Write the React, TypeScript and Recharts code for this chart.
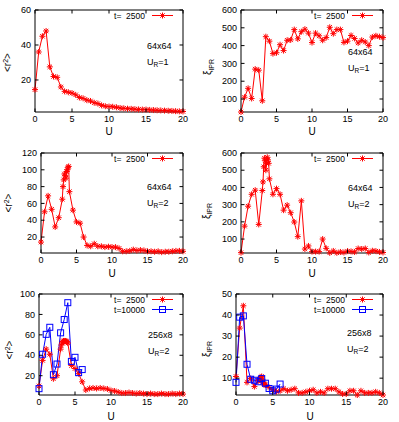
import React from 'react';
import { LineChart, Line, XAxis, YAxis, ReferenceLine, Legend } from 'recharts';

const FONT = '"Liberation Sans", Arial, Helvetica, sans-serif';
const RED = '#ff0000';
const BLUE = '#0000ff';

// U grids (the 2500 runs on UR=2 have extra points between 3 and 4)
const uCoarse = [0, 0.5, 1, 1.5, 2, 2.5, 3, 3.5, 4, 4.5, 5, 5.5, 6, 6.5, 7, 7.5, 8, 8.5, 9, 9.5, 10,
  10.5, 11, 11.5, 12, 12.5, 13, 13.5, 14, 14.5, 15, 15.5, 16, 16.5, 17, 17.5, 18, 18.5, 19, 19.5, 20];
const uFine = [0, 0.5, 1, 1.5, 2, 2.5, 3, 3.1, 3.2, 3.3, 3.4, 3.5, 3.6, 3.7, 3.8, 3.9, 4, 4.5, 5, 5.5, 6,
  6.5, 7, 7.5, 8, 8.5, 9, 9.5, 10, 10.5, 11, 11.5, 12, 12.5, 13, 13.5, 14, 14.5, 15, 15.5, 16, 16.5, 17,
  17.5, 18, 18.5, 19, 19.5, 20];
const uLong = [0, 0.5, 1, 1.5, 2, 2.5, 3, 3.5, 4, 4.5, 5, 5.5, 6];

// 64x64, UR=1
const r2UR1 = [14.5, 36, 45, 48, 27.5, 22, 21.5, 16, 13.5, 13, 12.5, 11.5, 10, 9.5, 8.5, 8, 7, 6.5, 5.5, 5,
  4.8, 4.7, 4.4, 4, 3.8, 3.6, 3.5, 3.3, 3.2, 3.1, 3.1, 2.9, 2.8, 2.7, 2.6, 2.5, 2.4, 2.3, 2.2, 2.1, 2.0];
const xiUR1 = [27, 110, 160, 103, 268, 262, 90, 450, 425, 355, 360, 405, 372, 430, 432, 490, 438, 478, 492,
  470, 417, 470, 455, 430, 445, 503, 467, 490, 490, 418, 425, 457, 440, 415, 430, 420, 400, 448, 455, 450, 445];

// 64x64, UR=2
const r2UR2 = [14, 50, 69, 53, 32, 43, 65, 80, 88, 95, 93, 90, 98, 100, 103, 104, 74, 52, 38, 36.5, 20, 10,
  9, 12, 9, 9, 8, 8.5, 8, 8, 6.5, 3, 3, 3.5, 5, 4, 4.5, 4, 3, 3, 2.5, 3, 2, 2.5, 2.5, 3, 3.5, 3.5, 3];
const xiUR2 = [21, 175, 291, 360, 384, 185, 382, 432, 520, 570, 555, 500, 540, 575, 560, 540, 450, 360, 393,
  360, 268, 297, 253, 199, 114, 322, 42, 60, 27, 27, 27, 100, 46, 20, 31, 20, 25, 22, 30, 28, 25, 45, 42,
  45, 22, 32, 30, 25, 22];

// 256x8, UR=2
const r2Strip2500 = [10, 35, 46, 41, 17, 20, 46, 50, 52, 53, 54, 54, 54, 54, 53.5, 53, 52, 30, 27, 22, 14, 6,
  7.5, 8, 7.5, 8, 7.5, 7, 5.5, 5, 4, 3, 3, 3.5, 3, 2.5, 3, 2.5, 2, 2.5, 2, 2, 2.5, 2, 2, 2.5, 2, 2.5, 2];
const r2Strip10000 = [7.3, 41, 60.5, 67.4, 21, 31.4, 62, 75, 91.5, 34, 38, 23, 26];
const xiStrip2500 = [10.8, 33.8, 44.4, 8, 9.8, 6, 8.7, 9, 9.5, 10, 10.5, 10.8, 9.5, 8, 7.5, 7, 6.7, 5.6, 4.4,
  3.6, 4, 5, 4, 4.5, 5, 3, 3, 3.5, 4, 4.5, 3, 3.5, 3, 5, 5, 5, 3.5, 2.5, 2.5, 4, 4, 2, 4, 3, 3, 3, 3.5, 3, 2];
const xiStrip10000 = [8, 39, 39.6, 16.6, 9.5, 9, 8.3, 9.8, 7.6, 5.1, 4, 4.8, 7.2];

const xTicks = [0, 5, 10, 15, 20];

const toRows = (us: number[], vs: number[]) => us.map((u, i) => ({ u, v: vs[i] }));

type Box = { l: number; t: number; r: number; b: number };

const Star = ({ cx, cy, color }: any) => {
  const r = 3, d = 2.2;
  return (
    <path
      d={`M${cx - r},${cy}H${cx + r}M${cx},${cy - r}V${cy + r}M${cx - d},${cy - d}L${cx + d},${cy + d}M${cx - d},${cy + d}L${cx + d},${cy - d}`}
      stroke={color}
      strokeWidth={1}
      fill="none"
    />
  );
};

const Square = ({ cx, cy, color }: any) => (
  <rect x={cx - 3} y={cy - 3} width={6} height={6} fill="none" stroke={color} strokeWidth={1} />
);

// gnuplot style: ticks point inwards and are mirrored on the opposite border
const XTick = ({ x, payload, box }: any) => (
  <g>
    <line x1={x} x2={x} y1={box.b} y2={box.b - 3.5} stroke="#000" />
    <line x1={x} x2={x} y1={box.t} y2={box.t + 3.5} stroke="#000" />
    <text x={x} y={box.b + 10} textAnchor="middle" fontSize={9} fontFamily={FONT} fill="#000">
      {payload.value}
    </text>
  </g>
);

const YTick = ({ y, payload, box }: any) => (
  <g>
    <line x1={box.l} x2={box.l + 3.5} y1={y} y2={y} stroke="#000" />
    <line x1={box.r} x2={box.r - 3.5} y1={y} y2={y} stroke="#000" />
    <text x={box.l - 4} y={y + 3.2} textAnchor="end" fontSize={9} fontFamily={FONT} fill="#000">
      {payload.value}
    </text>
  </g>
);

interface Series {
  data: { u: number; v: number }[];
  color: string;
  marker: 'star' | 'square';
  label: string;
}

const ROW = 10;

const LegendBox = ({ series }: { series: Series[] }) => (
  <svg width={80} height={series.length * ROW + 4} style={{ display: 'block', overflow: 'visible' }}>
    {series.map((s, i) => {
      const y = 5.5 + i * ROW;
      return (
        <g key={i}>
          <text x={42} y={y + 3} textAnchor="end" fontSize={8.5} fontFamily={FONT} fill="#000" style={{ whiteSpace: 'pre' }}>
            {s.label}
          </text>
          <line x1={49} x2={70} y1={y} y2={y} stroke={s.color} />
          {s.marker === 'star' ? <Star cx={59.5} cy={y} color={s.color} /> : <Square cx={59.5} cy={y} color={s.color} />}
        </g>
      );
    })}
  </svg>
);

interface PanelCfg {
  left: number;
  top: number;
  w: number;
  h: number;
  plot: Box;
  yDomain: [number, number];
  yTicks: number[];
}

const Panel = ({ cfg, series }: { cfg: PanelCfg; series: Series[] }) => {
  const { left, top, w, h, plot } = cfg;
  const box: Box = { l: plot.l - left, t: plot.t - top, r: plot.r - left, b: plot.b - top };
  const xH = 20;
  const margin = { top: box.t, right: w - box.r, left: 0, bottom: h - box.b - xH };
  return (
    <div style={{ position: 'absolute', left, top, width: w, height: h }}>
      <LineChart width={w} height={h} margin={margin}>
        <XAxis
          type="number"
          dataKey="u"
          domain={[0, 20]}
          ticks={xTicks}
          interval={0}
          height={xH}
          tickSize={0}
          tickLine={false}
          axisLine={{ stroke: '#000' }}
          tick={(p: any) => <XTick {...p} box={box} />}
        />
        <YAxis
          type="number"
          domain={cfg.yDomain}
          ticks={cfg.yTicks}
          interval={0}
          width={box.l}
          tickSize={0}
          tickLine={false}
          axisLine={{ stroke: '#000' }}
          tick={(p: any) => <YTick {...p} box={box} />}
        />
        <ReferenceLine y={cfg.yDomain[1]} stroke="#000" />
        <ReferenceLine x={20} stroke="#000" />
        {series.map((s, i) => (
          <Line
            key={i}
            data={s.data}
            dataKey="v"
            type="linear"
            stroke={s.color}
            strokeWidth={1}
            isAnimationActive={false}
            activeDot={false}
            dot={(p: any) =>
              s.marker === 'star'
                ? <Star key={`d${i}-${p.index}`} cx={p.cx} cy={p.cy} color={s.color} />
                : <Square key={`d${i}-${p.index}`} cx={p.cx} cy={p.cy} color={s.color} />
            }
          />
        ))}
        <Legend
          layout="horizontal"
          verticalAlign="middle"
          align="center"
          wrapperStyle={{ left: box.r - 80, top: box.t, width: 80, height: series.length * ROW + 4 }}
          content={() => <LegendBox series={series} />}
        />
      </LineChart>
    </div>
  );
};

const cfgs: PanelCfg[] = [
  { left: 0, top: 0, w: 200, h: 140, plot: { l: 35, t: 10, r: 183, b: 112 }, yDomain: [1.7, 60], yTicks: [20, 40, 60] },
  { left: 200, top: 0, w: 199, h: 140, plot: { l: 241, t: 10, r: 383, b: 112 }, yDomain: [27, 600], yTicks: [100, 200, 300, 400, 500, 600] },
  { left: 0, top: 140, w: 200, h: 140, plot: { l: 41, t: 153, r: 183, b: 253 }, yDomain: [1, 120], yTicks: [20, 40, 60, 80, 100, 120] },
  { left: 200, top: 140, w: 199, h: 140, plot: { l: 241, t: 153, r: 383, b: 253 }, yDomain: [19, 600], yTicks: [100, 200, 300, 400, 500, 600] },
  { left: 0, top: 280, w: 200, h: 142, plot: { l: 39, t: 294, r: 183, b: 395 }, yDomain: [1.1, 100], yTicks: [20, 40, 60, 80, 100] },
  { left: 200, top: 280, w: 199, h: 142, plot: { l: 236, t: 294, r: 383, b: 395 }, yDomain: [2, 50], yTicks: [10, 20, 30, 40, 50] },
];

const R2Label = ({ x, y }: any) => (
  <text x={x} y={y} transform={`rotate(-90 ${x} ${y})`} textAnchor="middle" fontSize={10} fontFamily={FONT} fill="#000">
    {'<r'}
    <tspan dy={-3.5} fontSize={7}>2</tspan>
    <tspan dy={3.5}>{'>'}</tspan>
  </text>
);

const XiLabel = ({ x, y }: any) => (
  <text x={x} y={y} transform={`rotate(-90 ${x} ${y})`} textAnchor="middle" fontSize={10} fontFamily={FONT} fill="#000">
    ξ<tspan dy={2.5} fontSize={7}>IPR</tspan>
  </text>
);

const Note = ({ x, y, size, ur }: any) => (
  <g fontSize={9} fontFamily={FONT} fill="#000">
    <text x={x} y={y}>{size}</text>
    <text x={x} y={y + 16}>
      U<tspan dy={2} fontSize={6.5}>R</tspan><tspan dy={-2}>={ur}</tspan>
    </text>
  </g>
);

export default function App() {
  return (
    <div style={{ position: 'absolute', left: 0, top: 0, width: 399, height: 422, background: '#fff' }}>
      <Panel cfg={cfgs[0]} series={[{ data: toRows(uCoarse, r2UR1), color: RED, marker: 'star', label: 't=  2500' }]} />
      <Panel cfg={cfgs[1]} series={[{ data: toRows(uCoarse, xiUR1), color: RED, marker: 'star', label: 't=  2500' }]} />
      <Panel cfg={cfgs[2]} series={[{ data: toRows(uFine, r2UR2), color: RED, marker: 'star', label: 't=  2500' }]} />
      <Panel cfg={cfgs[3]} series={[{ data: toRows(uFine, xiUR2), color: RED, marker: 'star', label: 't=  2500' }]} />
      <Panel
        cfg={cfgs[4]}
        series={[
          { data: toRows(uFine, r2Strip2500), color: RED, marker: 'star', label: 't=  2500' },
          { data: toRows(uLong, r2Strip10000), color: BLUE, marker: 'square', label: 't=10000' },
        ]}
      />
      <Panel
        cfg={cfgs[5]}
        series={[
          { data: toRows(uFine, xiStrip2500), color: RED, marker: 'star', label: 't=  2500' },
          { data: toRows(uLong, xiStrip10000), color: BLUE, marker: 'square', label: 't=10000' },
        ]}
      />
      <svg width={399} height={422} style={{ position: 'absolute', left: 0, top: 0, pointerEvents: 'none' }}>
        <g fontSize={10} fontFamily={FONT} fill="#000" textAnchor="middle">
          <text x={109} y={135}>U</text>
          <text x={312} y={135}>U</text>
          <text x={112} y={277}>U</text>
          <text x={312} y={277}>U</text>
          <text x={111} y={419.5}>U</text>
          <text x={310} y={419.5}>U</text>
        </g>
        <R2Label x={11} y={62.5} />
        <R2Label x={12} y={203} />
        <R2Label x={13} y={350} />
        <XiLabel x={211} y={67} />
        <XiLabel x={209.5} y={211} />
        <XiLabel x={209.5} y={349} />
        <Note x={147} y={49} size="64x64" ur={1} />
        <Note x={348} y={55.2} size="64x64" ur={1} />
        <Note x={147} y={190} size="64x64" ur={2} />
        <Note x={348} y={191} size="64x64" ur={2} />
        <Note x={148} y={337.5} size="256x8" ur={2} />
        <Note x={347} y={335.5} size="256x8" ur={2} />
      </svg>
    </div>
  );
}
